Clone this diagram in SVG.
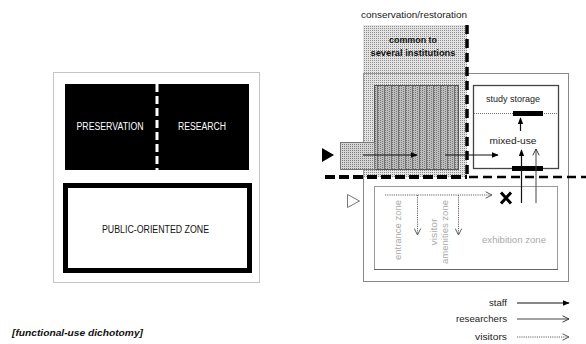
<svg xmlns="http://www.w3.org/2000/svg" width="586" height="344" viewBox="0 0 586 344">
<defs>
<pattern id="dots" width="2" height="2" patternUnits="userSpaceOnUse">
<rect width="2" height="2" fill="#e4e4e4"/>
<rect width="1" height="1" fill="#8c8c8c"/>
</pattern>
<pattern id="dots2" width="2" height="2" patternUnits="userSpaceOnUse">
<rect width="2" height="2" fill="#d6d6d6"/>
<rect width="1" height="1" fill="#7a7a7a"/>
</pattern>
<pattern id="stripes" width="7" height="2" patternUnits="userSpaceOnUse">
<rect width="7" height="2" fill="#bdbdbd"/>
<rect width="1" height="1" fill="#777"/>
<rect x="2" width="1" height="1" fill="#777"/>
<rect x="4" y="1" width="1" height="1" fill="#777"/>
<rect x="6" width="1" height="2" fill="#707070"/>
</pattern>
<marker id="af" viewBox="0 0 10 10" refX="9" refY="5" markerWidth="7" markerHeight="7" markerUnits="userSpaceOnUse" orient="auto">
<path d="M0,1 L10,5 L0,9 Z" fill="#000"/>
</marker>
<marker id="ao" viewBox="0 0 10 10" refX="9" refY="5" markerWidth="8" markerHeight="8" markerUnits="userSpaceOnUse" orient="auto">
<path d="M1,1 L9,5 L1,9" fill="none" stroke="#333" stroke-width="1.2"/>
</marker>
<marker id="av" viewBox="0 0 10 10" refX="9" refY="5" markerWidth="8" markerHeight="8" markerUnits="userSpaceOnUse" orient="auto">
<path d="M1,1 L9,5 L1,9" fill="none" stroke="#555" stroke-width="1.2"/>
</marker>
</defs>
<style>
text{font-family:"Liberation Sans","DejaVu Sans",sans-serif}
.wt{fill:#fff;font-size:10px}
.bk{fill:#111;font-size:10px}
.sm{fill:#222;font-size:9.5px}
.gr{fill:#aaa;font-size:9.5px}
.staff{stroke:#111;stroke-width:1.2;fill:none}
.res{stroke:#444;stroke-width:1;fill:none}
.vis{stroke:#666;stroke-width:1;stroke-dasharray:1.2 1;fill:none}
</style>
<rect width="586" height="344" fill="#fff"/>

<g id="left-panel">
<rect x="53.5" y="72.5" width="206" height="210" fill="#fff" stroke="#c4c4c4" stroke-width="1"/>
</g>
<g id="preservation-research">
<rect x="65" y="84" width="184" height="86" fill="#000"/>
<line x1="157" y1="84" x2="157" y2="170" stroke="#fff" stroke-width="3" stroke-dasharray="8 4"/>
<text class="wt" x="110" y="130" text-anchor="middle" textLength="67" lengthAdjust="spacingAndGlyphs">PRESERVATION</text>
<text class="wt" x="202" y="130" text-anchor="middle" textLength="48" lengthAdjust="spacingAndGlyphs">RESEARCH</text>
</g>
<g id="public-zone">
<rect x="65.5" y="185.5" width="184" height="85" fill="#fff" stroke="#000" stroke-width="5"/>
<text class="bk" x="155.5" y="233" text-anchor="middle" textLength="107" lengthAdjust="spacingAndGlyphs">PUBLIC-ORIENTED ZONE</text>
</g>
<g id="caption">
<text x="12" y="336" font-size="9.5" font-weight="bold" font-style="italic" fill="#111" textLength="131" lengthAdjust="spacingAndGlyphs">[functional-use dichotomy]</text>
</g>

<g id="building">
<rect x="363.5" y="73.5" width="205" height="208" fill="none" stroke="#888" stroke-width="1"/>
</g>
<g id="conservation">
<rect x="363" y="25" width="104" height="152" fill="url(#dots)"/>
<line x1="363.5" y1="73" x2="363.5" y2="177" stroke="#999" stroke-width="1"/>
<line x1="363" y1="73.5" x2="467" y2="73.5" stroke="#999" stroke-width="1"/>
<text class="sm" x="414" y="18" text-anchor="middle" textLength="106" lengthAdjust="spacingAndGlyphs">conservation/restoration</text>
<text x="413" y="43" text-anchor="middle" font-size="9.5" font-weight="bold" fill="#111" textLength="48" lengthAdjust="spacingAndGlyphs">common to</text>
<text x="413" y="56" text-anchor="middle" font-size="9.5" font-weight="bold" fill="#111" textLength="85" lengthAdjust="spacingAndGlyphs">several institutions</text>
</g>
<g id="common-core">
<rect x="374.5" y="85.5" width="84" height="84" fill="url(#stripes)" stroke="#555" stroke-width="1"/>
</g>
<g id="staff-entrance">
<rect x="340.5" y="142.5" width="34" height="27" fill="url(#dots2)" stroke="#777" stroke-width="1"/>
<path d="M322,148 L334,155 L322,162 Z" fill="#000"/>
</g>
<g id="study-storage">
<rect x="473.5" y="85.5" width="85" height="83" fill="#fff" stroke="#444" stroke-width="1.3"/>
<text class="sm" x="513" y="102" text-anchor="middle" textLength="54" lengthAdjust="spacingAndGlyphs">study storage</text>
<line x1="474" y1="113.5" x2="558" y2="113.5" stroke="#777" stroke-width="1" stroke-dasharray="1 1"/>
<rect x="513" y="111" width="30" height="5" fill="#000"/>
<text class="sm" x="513" y="144" text-anchor="middle" textLength="47" lengthAdjust="spacingAndGlyphs">mixed-use</text>
<rect x="512" y="166" width="31" height="5" fill="#000"/>
</g>
<g id="exhibition">
<rect x="374.5" y="186.5" width="183" height="83" fill="#fff" stroke="#999" stroke-width="1"/>
<line x1="374" y1="269.5" x2="558" y2="269.5" stroke="#666" stroke-width="1"/>
<path d="M347.5,194.5 L359.5,201 L347.5,207.5 Z" fill="#fff" stroke="#777" stroke-width="1"/>
<text class="gr" transform="translate(401,230) rotate(-90)" text-anchor="middle" textLength="60" lengthAdjust="spacingAndGlyphs">entrance zone</text>
<text class="gr" transform="translate(437,232) rotate(-90)" text-anchor="middle" textLength="27" lengthAdjust="spacingAndGlyphs">visitor</text>
<text class="gr" transform="translate(448,232) rotate(-90)" text-anchor="middle" textLength="64" lengthAdjust="spacingAndGlyphs">amenities zone</text>
<text class="gr" x="514" y="243" text-anchor="middle" textLength="64" lengthAdjust="spacingAndGlyphs">exhibition zone</text>
<path d="M501,192.5 L511,203.5 M511,192.5 L501,203.5" stroke="#000" stroke-width="3"/>
</g>

<g id="connectors">
<line x1="467" y1="25" x2="467" y2="177" stroke="#000" stroke-width="3.5" stroke-dasharray="9 5"/>
<line x1="325" y1="177" x2="467" y2="177" stroke="#000" stroke-width="4" stroke-dasharray="10 4"/>
<line x1="469" y1="177" x2="586" y2="177" stroke="#000" stroke-width="2.6" stroke-dasharray="9 5"/>
<line class="staff" x1="363" y1="155" x2="417" y2="155" marker-end="url(#af)"/>
<line class="staff" x1="445" y1="155" x2="498" y2="155" marker-end="url(#af)"/>
<line class="staff" x1="520.5" y1="131" x2="520.5" y2="118" marker-end="url(#af)"/>
<line class="staff" x1="521.5" y1="203" x2="521.5" y2="150" marker-end="url(#af)"/>
<line class="res" x1="536" y1="203" x2="536" y2="149" marker-end="url(#ao)"/>
<line class="vis" x1="385" y1="195" x2="492" y2="195" marker-end="url(#av)"/>
<line class="vis" x1="417.5" y1="195" x2="417.5" y2="235" marker-end="url(#av)"/>
<line class="vis" x1="458.5" y1="195" x2="458.5" y2="235" marker-end="url(#av)"/>
</g>

<g id="legend">
<text class="sm" x="507" y="306" text-anchor="end" textLength="18" lengthAdjust="spacingAndGlyphs">staff</text>
<line class="staff" x1="517" y1="303" x2="569" y2="303" marker-end="url(#af)"/>
<text class="sm" x="507" y="322" text-anchor="end" textLength="51" lengthAdjust="spacingAndGlyphs">researchers</text>
<line class="res" x1="517" y1="319" x2="569" y2="319" marker-end="url(#ao)"/>
<text class="sm" x="507" y="340" text-anchor="end" textLength="32" lengthAdjust="spacingAndGlyphs">visitors</text>
<line class="vis" x1="517" y1="337" x2="569" y2="337" marker-end="url(#av)"/>
</g>
</svg>
